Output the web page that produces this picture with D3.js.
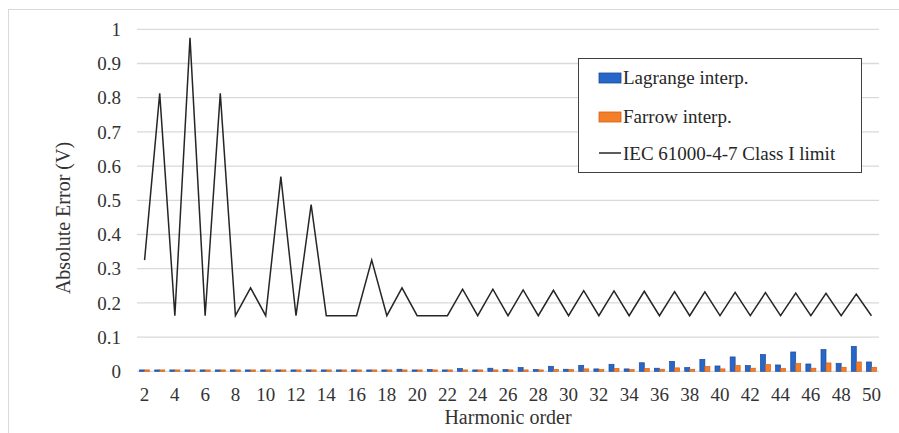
<!DOCTYPE html>
<html>
<head>
<meta charset="utf-8">
<script src="https://cdn.jsdelivr.net/npm/d3@7"></script>
<style>
    body { margin: 0; background: #fff; }
    text { font-family: "Liberation Serif", "Times New Roman", serif; }
</style>
</head>
<body>
<svg id="chart"></svg>
<script>
// harmonic orders on the x axis
const harmonics = [2, 3, 4, 5, 6, 7, 8, 9, 10, 11, 12, 13, 14, 15, 16, 17, 18, 19, 20, 21, 22, 23, 24, 25, 26,
    27, 28, 29, 30, 31, 32, 33, 34, 35, 36, 37, 38, 39, 40, 41, 42, 43, 44, 45, 46, 47, 48, 49, 50];

const lagrange = [0.004, 0.004, 0.004, 0.004, 0.004, 0.004, 0.004, 0.004, 0.004, 0.004, 0.004, 0.004, 0.004,
    0.004, 0.004, 0.004, 0.004, 0.006, 0.004, 0.005, 0.004, 0.008, 0.004, 0.009, 0.005,
    0.011, 0.005, 0.0146, 0.006, 0.0175, 0.007, 0.0205, 0.007, 0.025, 0.009, 0.029, 0.011,
    0.035, 0.0156, 0.042, 0.0166, 0.049, 0.0185, 0.0565, 0.0214, 0.0634, 0.0234, 0.073, 0.0273];

const farrow = [0.004, 0.004, 0.004, 0.004, 0.004, 0.004, 0.004, 0.004, 0.004, 0.004, 0.004, 0.004, 0.004,
    0.004, 0.004, 0.004, 0.004, 0.004, 0.004, 0.004, 0.004, 0.004, 0.004, 0.004, 0.004,
    0.004, 0.004, 0.005, 0.005, 0.007, 0.005, 0.008, 0.005, 0.008, 0.006, 0.01, 0.006,
    0.0137, 0.007, 0.0166, 0.009, 0.0195, 0.008, 0.0224, 0.009, 0.0244, 0.0117, 0.0273, 0.0117];

const classILimit = [0.325, 0.8125, 0.1625, 0.975, 0.1625, 0.8125, 0.1625, 0.244, 0.1625, 0.569, 0.1625, 0.4875, 0.1625,
    0.1625, 0.1625, 0.325, 0.1625, 0.244, 0.1625, 0.1625, 0.1625, 0.24, 0.1625, 0.24, 0.1625,
    0.238, 0.1625, 0.237, 0.1625, 0.236, 0.1625, 0.235, 0.1625, 0.234, 0.1625, 0.233, 0.1625,
    0.232, 0.1625, 0.231, 0.1625, 0.23, 0.1625, 0.229, 0.1625, 0.228, 0.1625, 0.226, 0.1625];

const yTicks = [0, 0.1, 0.2, 0.3, 0.4, 0.5, 0.6, 0.7, 0.8, 0.9, 1];
const seriesNames = ["Lagrange interp.", "Farrow interp.", "IEC 61000-4-7 Class I limit"];

const width = 899;
const height = 433;
const plot = { left: 137, right: 879, top: 29.3, bottom: 371.3 };

const svg = d3.select("#chart")
    .attr("width", width)
    .attr("height", height)
    .attr("viewBox", [0, 0, width, height]);

// outer chart frame (only top and left edges fall inside the picture)
svg.append("rect")
    .attr("x", 8.5).attr("y", 9.5)
    .attr("width", 920).attr("height", 450)
    .attr("fill", "none")
    .attr("stroke", "#d9d9d9")
    .attr("stroke-width", 1);

const x = d3.scaleBand()
    .domain(harmonics)
    .range([plot.left, plot.right])
    .paddingInner(0.34)
    .paddingOuter(0.17);

const xSub = d3.scaleBand()
    .domain(["lagrange", "farrow"])
    .range([0, x.bandwidth()]);

const y = d3.scaleLinear()
    .domain([0, 1])
    .range([plot.bottom, plot.top]);

const center = h => x(h) + x.bandwidth() / 2;

// gridlines
svg.append("g")
    .selectAll("line")
    .data(yTicks)
    .enter()
    .append("line")
    .attr("x1", plot.left).attr("x2", plot.right)
    .attr("y1", d => y(d)).attr("y2", d => y(d))
    .attr("stroke", "#d9d9d9")
    .attr("stroke-width", 1.3);

// y tick labels
svg.append("g")
    .selectAll("text")
    .data(yTicks)
    .enter()
    .append("text")
    .attr("x", 121)
    .attr("y", d => y(d))
    .attr("dy", "0.35em")
    .attr("text-anchor", "end")
    .attr("font-size", 19)
    .attr("fill", "#333")
    .text(d => d3.format("~g")(d));

// x tick labels, every second harmonic
svg.append("g")
    .selectAll("text")
    .data(harmonics.filter(h => h % 2 === 0))
    .enter()
    .append("text")
    .attr("x", d => center(d))
    .attr("y", 401)
    .attr("text-anchor", "middle")
    .attr("font-size", 19)
    .attr("fill", "#333")
    .text(d => d);

// bars
const rows = harmonics.map((h, i) => ({ h, lagrange: lagrange[i], farrow: farrow[i] }));
const barStyle = {
    lagrange: { fill: "#2767c8", stroke: "#184a9c" },
    farrow: { fill: "#f47f2a", stroke: "#d25f16" }
};

svg.append("g")
    .selectAll("g")
    .data(rows)
    .enter()
    .append("g")
    .attr("transform", d => `translate(${x(d.h)},0)`)
    .selectAll("rect")
    .data(d => ["lagrange", "farrow"].map(k => ({ k, v: d[k] })))
    .enter()
    .append("rect")
    .attr("x", d => xSub(d.k))
    .attr("width", xSub.bandwidth())
    .attr("y", d => y(d.v))
    .attr("height", d => y(0) - y(d.v))
    .attr("fill", d => barStyle[d.k].fill)
    .attr("stroke", d => barStyle[d.k].stroke)
    .attr("stroke-width", 0.7);

// limit line
const line = d3.line()
    .x((d, i) => center(harmonics[i]))
    .y(d => y(d));

svg.append("path")
    .datum(classILimit)
    .attr("d", line)
    .attr("fill", "none")
    .attr("stroke", "#262626")
    .attr("stroke-width", 1.5)
    .attr("stroke-linejoin", "miter");

// axis titles
svg.append("text")
    .attr("transform", "translate(70,218) rotate(-90)")
    .attr("text-anchor", "middle")
    .attr("font-size", 20)
    .attr("fill", "#333")
    .text("Absolute Error (V)");

svg.append("text")
    .attr("x", (plot.left + plot.right) / 2)
    .attr("y", 424)
    .attr("text-anchor", "middle")
    .attr("font-size", 20)
    .attr("fill", "#333")
    .text("Harmonic order");

// legend
const legend = svg.append("g");
legend.append("rect")
    .attr("x", 578.5).attr("y", 58.5)
    .attr("width", 283).attr("height", 114)
    .attr("fill", "#fff")
    .attr("stroke", "#404040")
    .attr("stroke-width", 1);

const legendRows = [78, 117, 154];
seriesNames.forEach((name, i) => {
    const cy = legendRows[i];
    if (i < 2) {
        const st = barStyle[i === 0 ? "lagrange" : "farrow"];
        legend.append("rect")
            .attr("x", 599).attr("y", cy - 5)
            .attr("width", 22).attr("height", 10)
            .attr("fill", st.fill)
            .attr("stroke", st.stroke)
            .attr("stroke-width", 0.8);
    } else {
        legend.append("line")
            .attr("x1", 599).attr("x2", 621)
            .attr("y1", cy - 1).attr("y2", cy - 1)
            .attr("stroke", "#262626")
            .attr("stroke-width", 1.5);
    }
    legend.append("text")
        .attr("x", 623)
        .attr("y", cy + 6)
        .attr("font-size", 19)
        .attr("fill", "#262626")
        .text(name);
});
</script>
</body>
</html>
